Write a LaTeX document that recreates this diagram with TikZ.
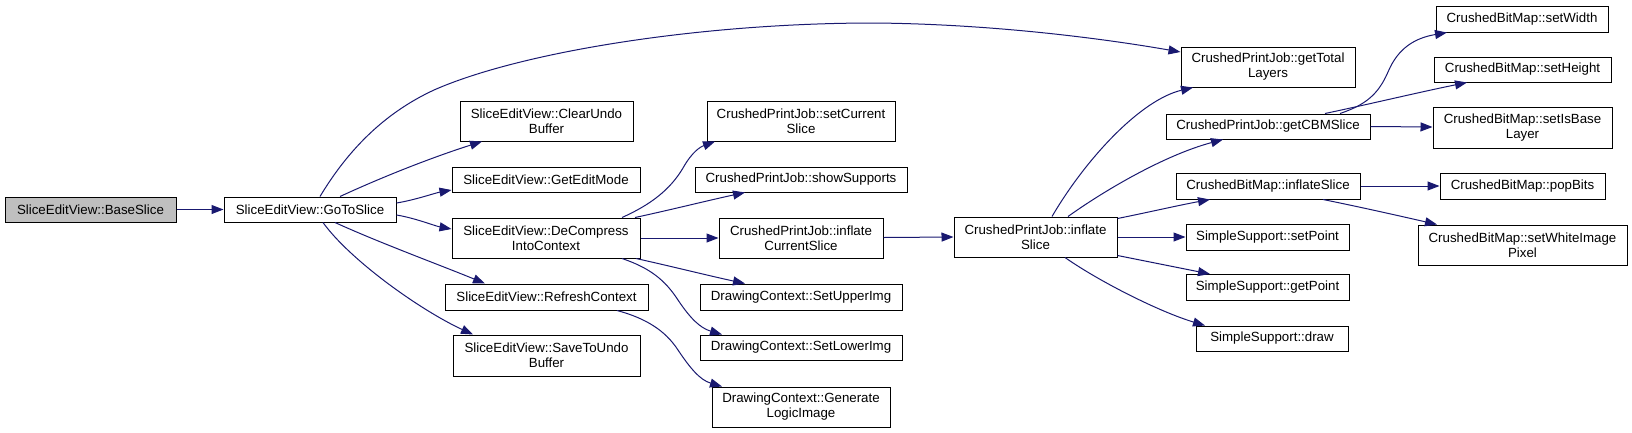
\documentclass[tikz,border=0pt]{standalone}
\usepackage{fontspec}
\setmainfont{Liberation Sans}
\usetikzlibrary{arrows.meta,calc}
\definecolor{edgeblue}{HTML}{191970}
\definecolor{basegrey}{HTML}{BFBFBF}
\tikzset{
  box/.style={draw=black, line width=1pt, fill=white, inner sep=0pt, align=center,
    font=\fontsize{13.3}{15}\selectfont},
  basebox/.style={box, fill=basegrey},
  edge/.style={draw=edgeblue, line width=1pt, -{Triangle[length=12pt,width=9pt]}},
}
\begin{document}
\begin{tikzpicture}[x=1pt,y=-1pt]
\useasboundingbox (0,0) rectangle (1632,432);
% nodes
\node[basebox, minimum width=171pt, minimum height=25pt] (base) at (90.5,209.5) {SliceEditView::BaseSlice};
\node[box, minimum width=172pt, minimum height=25pt] (goto) at (310,209.5) {SliceEditView::GoToSlice};
\node[box, minimum width=173pt, minimum height=40pt] (clear) at (546.5,121) {SliceEditView::ClearUndo\\Buffer};
\node[box, minimum width=188pt, minimum height=25pt] (getedit) at (546,179.5) {SliceEditView::GetEditMode};
\node[box, minimum width=188pt, minimum height=40pt] (decomp) at (546,238) {SliceEditView::DeCompress\\IntoContext};
\node[box, minimum width=203pt, minimum height=26pt] (refresh) at (546.5,297) {SliceEditView::RefreshContext};
\node[box, minimum width=187pt, minimum height=41pt] (save) at (546.5,355.5) {SliceEditView::SaveToUndo\\Buffer};
\node[box, minimum width=188pt, minimum height=40pt] (setcur) at (801,121) {CrushedPrintJob::setCurrent\\Slice};
\node[box, minimum width=212pt, minimum height=25pt] (showsup) at (801,179.5) {CrushedPrintJob::showSupports};
\node[box, minimum width=164pt, minimum height=40pt] (inflcur) at (801,238) {CrushedPrintJob::inflate\\CurrentSlice};
\node[box, minimum width=202pt, minimum height=26pt] (upper) at (801,297) {DrawingContext::SetUpperImg};
\node[box, minimum width=202pt, minimum height=25pt] (lower) at (801,347.5) {DrawingContext::SetLowerImg};
\node[box, minimum width=178pt, minimum height=40pt] (genlogic) at (801,407) {DrawingContext::Generate\\LogicImage};
\node[box, minimum width=163pt, minimum height=40pt] (inflslice) at (1035.5,237) {CrushedPrintJob::inflate\\Slice};
\node[box, minimum width=174pt, minimum height=40pt] (total) at (1268,67) {CrushedPrintJob::getTotal\\Layers};
\node[box, minimum width=204pt, minimum height=25pt] (cbm) at (1268,126.5) {CrushedPrintJob::getCBMSlice};
\node[box, minimum width=184pt, minimum height=26pt] (cbminfl) at (1268,186) {CrushedBitMap::inflateSlice};
\node[box, minimum width=163pt, minimum height=26pt] (setpoint) at (1267.5,237) {SimpleSupport::setPoint};
\node[box, minimum width=163pt, minimum height=26pt] (getpoint) at (1267.5,287.5) {SimpleSupport::getPoint};
\node[box, minimum width=152pt, minimum height=25pt] (drawn) at (1272,338.5) {SimpleSupport::draw};
\node[box, minimum width=172pt, minimum height=26pt] (setwidth) at (1522,19) {CrushedBitMap::setWidth};
\node[box, minimum width=177pt, minimum height=25pt] (setheight) at (1522.5,69.5) {CrushedBitMap::setHeight};
\node[box, minimum width=179pt, minimum height=41pt] (setisbase) at (1522.5,127.5) {CrushedBitMap::setIsBase\\Layer};
\node[box, minimum width=165pt, minimum height=26pt] (popbits) at (1522.5,186) {CrushedBitMap::popBits};
\node[box, minimum width=209pt, minimum height=40pt] (white) at (1522.5,245) {CrushedBitMap::setWhiteImage\\Pixel};
% edges
\draw[edge] (base.east) -- (goto.west);
\draw[edge] ($(goto.north)+(10,0)$) .. controls (345,155) and (380,115) .. (434,90)
  .. controls (520,52) and (700,23) .. (874,23)
  .. controls (990,24) and (1100,38) .. ($(total.west)+(0,-15)$);
\draw[edge] ($(goto.north)+(30,0)$) .. controls (380,178) and (430,158) .. ($(clear.south)+(-64.5,0)$);
\draw[edge] ($(goto.east)+(0,-6.5)$) .. controls (415,200) and (435,193) .. ($(getedit.west)+(0,10.5)$);
\draw[edge] ($(goto.east)+(0,5.5)$) .. controls (415,218) and (435,226) .. ($(decomp.west)+(0,-9)$);
\draw[edge] ($(goto.south)+(25,0)$) .. controls (380,243) and (440,265) .. ($(refresh.north)+(-61.5,0)$);
\draw[edge] ($(goto.south)+(13,0)$) .. controls (350,260) and (420,310) .. ($(save.north)+(-73.5,0)$);
\draw[edge] ($(decomp.north)+(76,0)$) .. controls (650,205) and (670,190) .. (683,168)
  .. controls (692,152) and (700,147) .. ($(setcur.south)+(-86,0)$);
\draw[edge] ($(decomp.north)+(89,0)$) .. controls (670,210) and (710,200) .. ($(showsup.south)+(-56,0)$);
\draw[edge] (decomp.east) -- (inflcur.west);
\draw[edge] ($(decomp.south)+(90,0)$) .. controls (670,266) and (710,276) .. ($(upper.north)+(-56,0)$);
\draw[edge] ($(decomp.south)+(76,0)$) .. controls (650,268) and (665,280) .. (678,300)
  .. controls (690,318) and (700,328) .. ($(lower.north)+(-79,0)$);
\draw[edge] ($(refresh.south)+(70.5,0)$) .. controls (645,318) and (665,330) .. (678,350)
  .. controls (690,368) and (700,380) .. ($(genlogic.north)+(-79,0)$);
\draw[edge] ($(inflcur.east)+(0,-0.5)$) -- ($(inflslice.west)+(0,0)$);
\draw[edge] ($(inflslice.north)+(16.5,0)$) .. controls (1085,160) and (1140,100) .. ($(total.south)+(-75,0)$);
\draw[edge] ($(inflslice.north)+(32.5,0)$) .. controls (1105,190) and (1165,155) .. ($(cbm.south)+(-45,0)$);
\draw[edge] ($(inflslice.north east)+(0,2)$) .. controls (1145,213) and (1180,205) .. ($(cbminfl.south)+(-58,0)$);
\draw[edge] (inflslice.east) -- (setpoint.west);
\draw[edge] ($(inflslice.south east)+(0,-2)$) .. controls (1145,261) and (1180,268) .. ($(getpoint.north)+(-57.5,0)$);
\draw[edge] ($(inflslice.south)+(29.5,0)$) .. controls (1100,282) and (1160,312) .. ($(drawn.north)+(-67,0)$);
\draw[edge] ($(cbm.north)+(72,0)$) .. controls (1365,105) and (1378,95) .. (1388,72)
  .. controls (1398,48) and (1415,38) .. ($(setwidth.south)+(-75,0)$);
\draw[edge] ($(cbm.north)+(57,0)$) .. controls (1370,104) and (1420,92) .. ($(setheight.south)+(-55.5,0)$);
\draw[edge] (cbm.east) -- ($(setisbase.west)+(0,-0.5)$);
\draw[edge] (cbminfl.east) -- (popbits.west);
\draw[edge] ($(cbminfl.south)+(55,0)$) .. controls (1360,207) and (1400,216) .. ($(white.north)+(-85.5,0)$);
\end{tikzpicture}
\end{document}
